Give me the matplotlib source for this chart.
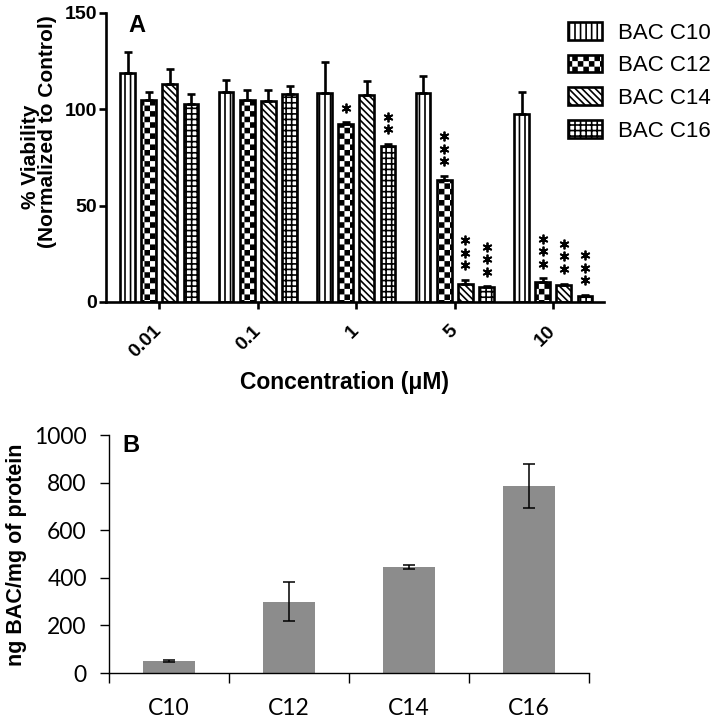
import numpy as np
import matplotlib
matplotlib.use("Agg")
import matplotlib.pyplot as plt
import matplotlib.hatch as mhatch
from matplotlib.path import Path
from matplotlib.transforms import offset_copy

# ---------------- data ----------------
concentrations = ['0.01', '0.1', '1', '5', '10']
series_names = ['BAC C10', 'BAC C12', 'BAC C14', 'BAC C16']
via_c10 = [119, 109, 108.3, 108.3, 97.4]
err_c10 = [11, 6, 16.4, 9, 11.4]
via_c12 = [105, 105, 92.5, 63.3, 10.5]
err_c12 = [4, 5, 0.8, 2.2, 1.8]
via_c14 = [113, 104.5, 107.4, 9.3, 8.8]
err_c14 = [8, 5.5, 7.3, 2.1, 0.8]
via_c16 = [103, 108, 81.1, 7.6, 3.1]
err_c16 = [5, 4, 1.0, 0.6, 0.5]
stars_c10 = [0, 0, 0, 0, 0]
stars_c12 = [0, 0, 1, 3, 3]
stars_c14 = [0, 0, 0, 3, 3]
stars_c16 = [0, 0, 2, 3, 3]

uptake_labels = ['C10', 'C12', 'C14', 'C16']
uptake_values = [50, 300, 445, 785]
uptake_errors = [3, 83, 7, 93]

# ---------------- custom checkerboard hatch (replaces '.') ----------------
plt.rcParams['hatch.linewidth'] = 1.2
plt.rcParams['hatch.color'] = 'black'


class CheckerHatch(mhatch.HatchPatternBase):
    def __init__(self, hatch, density):
        self.n = int(hatch.count('.') * density)
        if self.n % 2:
            self.n += 1
        self.num_squares = (self.n * self.n) // 2 if self.n else 0
        self.num_vertices = self.num_squares * 5

    def set_vertices_and_codes(self, vertices, codes):
        n = self.n
        c = 1.0 / n
        s = (1.2 * 100 / 72.0 / 2.0) / 100.0
        k = 0
        for i in range(n):
            for j in range(n):
                if (i + j) % 2 == 0:
                    x0, y0 = i * c + s, j * c + s
                    x1, y1 = (i + 1) * c - s, (j + 1) * c - s
                    vertices[k:k + 5] = [[x0, y0], [x1, y0], [x1, y1], [x0, y1], [x0, y0]]
                    codes[k:k + 5] = [Path.MOVETO, Path.LINETO, Path.LINETO,
                                      Path.LINETO, Path.CLOSEPOLY]
                    k += 5


mhatch._hatch_types[:] = [t for t in mhatch._hatch_types
                          if t is not mhatch.SmallFilledCircles] + [CheckerHatch]

plt.rcParams['font.family'] = ['Liberation Sans', 'DejaVu Sans']

fig = plt.figure(figsize=(7.2, 7.19), dpi=100)

# ---------------- Panel A ----------------
axA = fig.add_axes([106 / 720, 1 - 302 / 719, (604 - 106) / 720, (302 - 13) / 719])
vals = [via_c10, via_c12, via_c14, via_c16]
errs = [err_c10, err_c12, err_c14, err_c16]
stars = [stars_c10, stars_c12, stars_c14, stars_c16]
hatches = ['|||', '...', '\\\\\\\\\\', '+++']
x = np.arange(len(concentrations))
step = 0.215
width = 0.15
handles = []
for s_i in range(4):
    xs = x + (s_i - 1.5) * step
    b = axA.bar(xs, vals[s_i], width, facecolor='white', edgecolor='black',
                linewidth=1.9, hatch=hatches[s_i], zorder=2, label=series_names[s_i])
    handles.append(b)
    axA.errorbar(xs, vals[s_i], yerr=[np.zeros(len(xs)), errs[s_i]], fmt='none',
                 ecolor='black', elinewidth=1.9, capsize=3.2, capthick=1.9, zorder=3)
    tops = np.array(vals[s_i]) + np.array(errs[s_i])
    for lvl in range(3):
        sel = np.array(stars[s_i]) > lvl
        if sel.any():
            tr = offset_copy(axA.transData, fig=fig, x=0, y=10.5 + 9 * lvl, units='points')
            axA.plot(xs[sel], tops[sel], linestyle='none', marker=(6, 2, 0),
                     markersize=7, markeredgewidth=1.3, color='black',
                     transform=tr, zorder=4)

axA.set_xlim(-0.541, 4.515)
axA.set_ylim(0, 150)
axA.set_yticks([0, 50, 100, 150])
axA.set_xticks(x)
axA.set_xticklabels(concentrations, rotation=45, ha='right', va='center',
                    rotation_mode='anchor', fontsize=14, fontweight='bold')
for lab in axA.get_yticklabels():
    lab.set_fontsize(14)
    lab.set_fontweight('bold')
axA.tick_params(axis='y', length=5, width=1.9, pad=1.5)
axA.tick_params(axis='x', length=5, width=1.9, pad=14)
for sp in ['top', 'right']:
    axA.spines[sp].set_visible(False)
for sp in ['left', 'bottom']:
    axA.spines[sp].set_linewidth(1.9)

fig.text(30 / 720, 1 - 157 / 719, '% Viability', rotation=90, ha='center', va='center',
         fontsize=15, fontweight='bold')
fig.text(48 / 720, 1 - 132 / 719, '(Normalized to Control)', rotation=90, ha='center',
         va='center', fontsize=15, fontweight='bold')
fig.text(345 / 720, 1 - 383 / 719, 'Concentration (μM)', ha='center', va='center',
         fontsize=16.5, fontweight='bold')
fig.text(137 / 720, 1 - 25 / 719, 'A', ha='center', va='center', fontsize=17,
         fontweight='bold')

axA.legend(handles, series_names, loc='upper left', bbox_to_anchor=(568 / 720, 1 - 22 / 719),
           bbox_transform=fig.transFigure, frameon=False, fontsize=16,
           handlelength=1.55, handleheight=0.85, labelspacing=0.5, handletextpad=0.7,
           borderpad=0, borderaxespad=0)

# ---------------- Panel B ----------------
axB = fig.add_axes([109 / 720, 1 - 673 / 719, (589 - 109) / 720, (673 - 435) / 719])
xb = np.arange(len(uptake_labels))
axB.bar(xb, uptake_values, 0.43, color='#8c8c8c', zorder=2)
axB.errorbar(xb, uptake_values, yerr=uptake_errors, fmt='none', ecolor='black',
             elinewidth=1.1, capsize=4, capthick=1.1, zorder=3)
axB.set_xlim(-0.5, 3.5)
axB.set_ylim(0, 1000)
axB.set_yticks([0, 200, 400, 600, 800, 1000])
axB.set_xticks(xb)
axB.set_xticklabels(uptake_labels, fontfamily='Lato', fontsize=16.5)
axB.set_xticks(np.arange(-0.5, 4.0, 1.0), minor=True)
for lab in axB.get_yticklabels():
    lab.set_fontfamily('Lato')
    lab.set_fontsize(16.5)
axB.tick_params(axis='x', which='major', length=0, pad=18)
axB.tick_params(axis='x', which='minor', length=7, width=1, direction='out')
axB.tick_params(axis='y', length=6.5, width=1, pad=9.5)
for sp in ['top', 'right']:
    axB.spines[sp].set_visible(False)
for sp in ['left', 'bottom']:
    axB.spines[sp].set_linewidth(1)
fig.text(17 / 720, 1 - 555 / 719, 'ng BAC/mg of protein', rotation=90, ha='center',
         va='center', fontsize=15.5, fontweight='bold')
fig.text(131 / 720, 1 - 445 / 719, 'B', ha='center', va='center', fontsize=17,
         fontweight='bold')

fig.savefig('out.png', dpi=100)
